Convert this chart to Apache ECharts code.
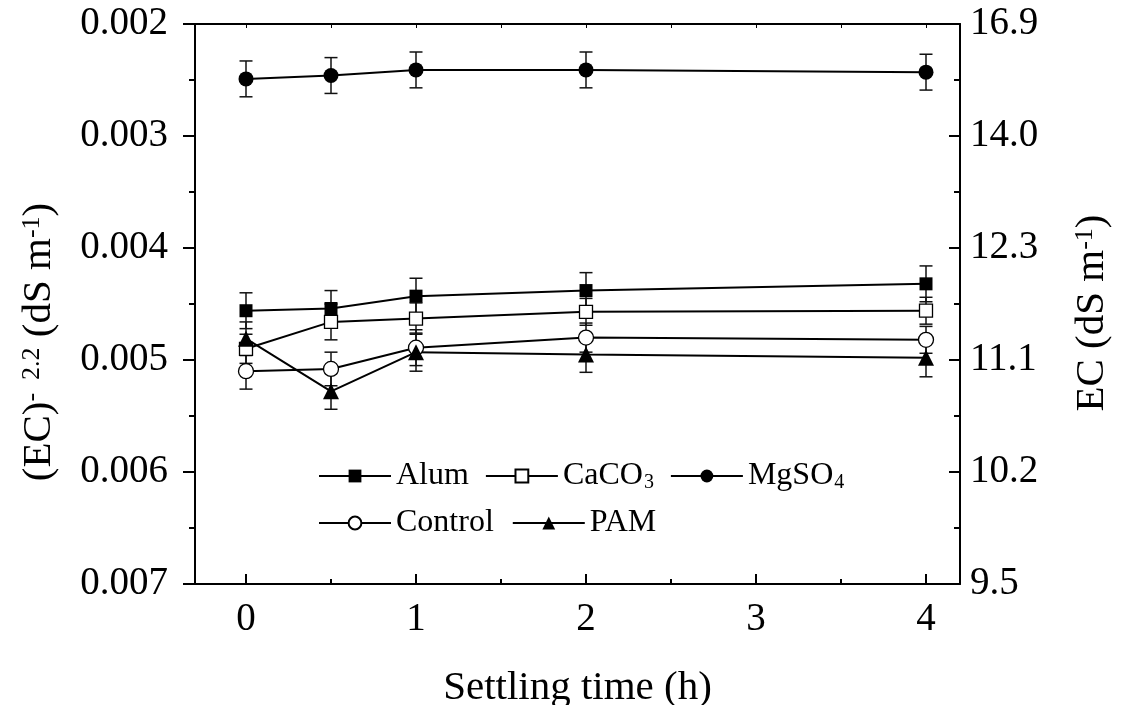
<!DOCTYPE html>
<html>
<head>
<meta charset="utf-8">
<title>EC vs settling time</title>
<script src="https://cdn.jsdelivr.net/npm/echarts@6/dist/echarts.min.js"></script>
<style>
  html, body { margin: 0; padding: 0; background: #fff; }
  #main { width: 1122px; height: 705px; }
</style>
</head>
<body>
<div id="main"></div>
<script>
// settling time (h)
var times = [0, 0.5, 1, 2, 4];

// (EC)^-2.2 values
var alum    = [0.00456, 0.00454, 0.00443, 0.00438, 0.00432];
var caco3   = [0.00490, 0.00466, 0.00463, 0.00457, 0.00456];
var mgso4   = [0.00249, 0.00246, 0.00241, 0.00241, 0.00243];
var control = [0.00510, 0.00508, 0.00489, 0.00480, 0.00482];
var pam     = [0.00481, 0.00528, 0.00493, 0.00495, 0.00498];

// error bar half widths
var alumErr    = [0.00016, 0.00016, 0.00016, 0.00016, 0.00016];
var caco3Err   = [0.00013, 0.00016, 0.00014, 0.00012, 0.00012];
var mgso4Err   = [0.00016, 0.00016, 0.00016, 0.00016, 0.00016];
var controlErr = [0.00016, 0.00015, 0.00016, 0.00013, 0.00012];
var pamErr     = [0.00015, 0.00016, 0.00017, 0.00016, 0.00017];

// right axis labels (EC, dS/m) at the left axis ticks
var ecLabels = ['16.9', '14.0', '12.3', '11.1', '10.2', '9.5'];
var xTicks = [0, 1, 2, 3, 4];
var xMinorTicks = [0.5, 1.5, 2.5, 3.5];
var topTicks = [0, 0.5, 1, 1.5, 2, 2.5, 3, 3.5, 4];

var FONT = 'Liberation Serif';
var myChart = echarts.init(document.getElementById('main'));

function pts(vals) {
  return times.map(function (t, i) { return [t, vals[i]]; });
}
function bars(vals, errs) {
  return times.map(function (t, i) { return [t, vals[i] - errs[i], vals[i] + errs[i]]; });
}

// vertical error bar with caps
function renderErr(params, api) {
  var x = api.value(0);
  var lo = api.coord([x, api.value(1)]);
  var hi = api.coord([x, api.value(2)]);
  var w = 6.5;
  var st = { stroke: '#111', lineWidth: 1.5 };
  return {
    type: 'group',
    children: [
      { type: 'line', shape: { x1: lo[0], y1: lo[1], x2: hi[0], y2: hi[1] }, style: st },
      { type: 'line', shape: { x1: lo[0] - w, y1: lo[1], x2: lo[0] + w, y2: lo[1] }, style: st },
      { type: 'line', shape: { x1: hi[0] - w, y1: hi[1], x2: hi[0] + w, y2: hi[1] }, style: st }
    ]
  };
}

function lineSeries(name, vals, symbol, size, hollow) {
  return {
    name: name,
    type: 'line',
    data: pts(vals),
    symbol: symbol,
    symbolSize: size,
    showAllSymbol: true,
    z: 3,
    lineStyle: { color: '#000', width: 2 },
    itemStyle: hollow
      ? { color: '#fff', borderColor: '#000', borderWidth: 1.3 }
      : { color: '#000', borderWidth: 0 }
  };
}

function errSeries(vals, errs) {
  return {
    type: 'custom',
    renderItem: renderErr,
    data: bars(vals, errs),
    encode: { x: 0, y: [1, 2] },
    z: 2,
    silent: true
  };
}

var axisLine = { show: true, onZero: false, lineStyle: { color: '#000', width: 2 } };
var tickLine = { color: '#000', width: 2 };
var legendText = {
  fontFamily: FONT,
  fontSize: 32,
  color: '#000',
  rich: {
    n: { fontFamily: FONT, fontSize: 32, color: '#000' },
    s: { fontFamily: FONT, fontSize: 20, color: '#000', verticalAlign: 'bottom', padding: [14, 8, 0, 1] }
  }
};
function legendFmt(name) {
  var m = name.match(/^(\D+)(\d)$/);
  return m ? '{n|' + m[1] + '}{s|' + m[2] + '}' : '{n|' + name + '}';
}
var nameRich = {
  n: { fontFamily: FONT, fontSize: 41, color: '#000' },
  s: { fontFamily: FONT, fontSize: 26, color: '#000', verticalAlign: 'top' }
};

var gridBox = { left: 195, right: 162, top: 24, bottom: 121, containLabel: false, outerBoundsMode: 'none' };

var option = {
  animation: false,
  backgroundColor: '#fff',
  textStyle: { fontFamily: FONT },
  grid: [Object.assign({}, gridBox), Object.assign({}, gridBox)],
  legend: [
    {
      data: ['Alum', 'CaCO3', 'MgSO4'],
      left: 313, top: 455,
      itemWidth: 72, itemHeight: 16, itemGap: 16,
      selectedMode: false,
      formatter: legendFmt,
      textStyle: legendText
    },
    {
      data: ['Control', 'PAM'],
      left: 313, top: 502,
      itemWidth: 72, itemHeight: 16, itemGap: 18,
      selectedMode: false,
      formatter: legendFmt,
      textStyle: legendText
    }
  ],
  xAxis: [
    {
      gridIndex: 0, type: 'value', position: 'bottom', min: -0.3, max: 4.2,
      axisLine: axisLine,
      axisTick: { customValues: xTicks, inside: true, length: 10, lineStyle: tickLine },
      axisLabel: { customValues: xTicks, margin: 16, fontFamily: FONT, fontSize: 39, color: '#000' },
      splitLine: { show: false },
      name: 'Settling time (h)', nameLocation: 'middle', nameGap: 84,
      nameTextStyle: { fontFamily: FONT, fontSize: 41, color: '#000' }
    },
    {
      gridIndex: 0, type: 'value', position: 'top', min: -0.3, max: 4.2,
      axisLine: axisLine,
      axisTick: { customValues: topTicks, inside: true, length: 4, lineStyle: { color: '#000', width: 1 } },
      axisLabel: { show: false },
      splitLine: { show: false }
    },
    {
      gridIndex: 1, type: 'value', position: 'bottom', min: -0.3, max: 4.2,
      axisLine: { show: false, onZero: false },
      axisTick: { customValues: xMinorTicks, inside: true, length: 5, lineStyle: tickLine },
      axisLabel: { show: false },
      splitLine: { show: false }
    }
  ],
  yAxis: [
    {
      gridIndex: 0, type: 'value', position: 'left', inverse: true,
      min: 0.002, max: 0.007, interval: 0.001,
      axisLine: axisLine,
      axisTick: { inside: false, length: 12, lineStyle: tickLine },
      minorTick: { show: true, splitNumber: 2, length: 6, lineStyle: tickLine },
      axisLabel: {
        margin: 27, fontFamily: FONT, fontSize: 39, color: '#000',
        formatter: function (v) { return v.toFixed(3); }
      },
      splitLine: { show: false },
      name: '{n|(EC)}{s|-  2.2}{n| (dS m}{s|-1}{n|)}',
      nameLocation: 'middle', nameGap: 135, nameRotate: 90,
      nameTextStyle: { fontFamily: FONT, fontSize: 41, color: '#000', padding: [0, 76, 0, 0], rich: nameRich }
    },
    {
      gridIndex: 0, type: 'value', position: 'right', inverse: true,
      min: 0.002, max: 0.007, interval: 0.001,
      axisLine: axisLine,
      axisTick: { inside: true, length: 11, lineStyle: tickLine },
      minorTick: { show: true, splitNumber: 2, length: 6, lineStyle: tickLine },
      axisLabel: {
        margin: 10, fontFamily: FONT, fontSize: 39, color: '#000',
        formatter: function (v) { return ecLabels[Math.round((v - 0.002) / 0.001)]; }
      },
      splitLine: { show: false },
      name: '{n|EC (dS m}{s|-1}{n|)}',
      nameLocation: 'middle', nameGap: 112, nameRotate: 90,
      nameTextStyle: { fontFamily: FONT, fontSize: 40, color: '#000', padding: [0, 18, 0, 0], rich: nameRich }
    },
    { gridIndex: 1, type: 'value', show: false, min: 0.002, max: 0.007, axisLine: { onZero: false } }
  ],
  series: [
    errSeries(alum, alumErr),
    errSeries(caco3, caco3Err),
    errSeries(mgso4, mgso4Err),
    errSeries(control, controlErr),
    errSeries(pam, pamErr),
    lineSeries('Alum', alum, 'rect', 13, false),
    lineSeries('CaCO3', caco3, 'rect', 13, true),
    lineSeries('MgSO4', mgso4, 'circle', 15, false),
    lineSeries('Control', control, 'circle', 15, true),
    lineSeries('PAM', pam, 'triangle', 16, false)
  ]
};

option && myChart.setOption(option);
</script>
</body>
</html>
